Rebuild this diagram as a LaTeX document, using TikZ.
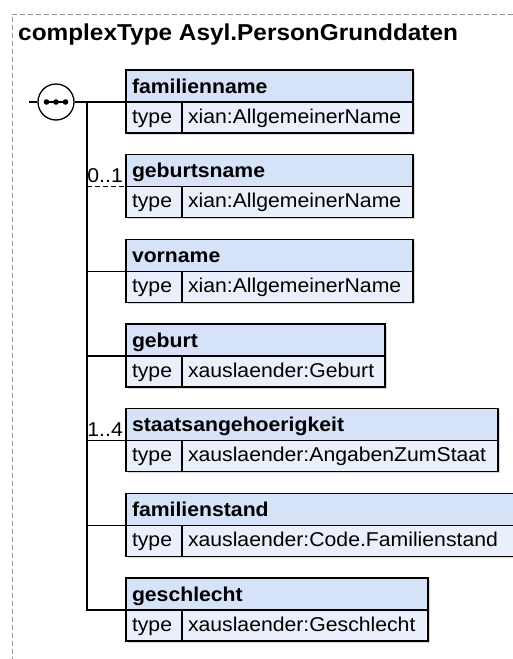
\documentclass[tikz,border=0pt]{standalone}
\usepackage{fontspec}
\setmainfont{Liberation Sans}[FakeStretch=1.06]
\usepackage{tikz}
\usetikzlibrary{shadows}
\definecolor{hdrfill}{RGB}{214,226,247}
\definecolor{rowfill}{RGB}{234,240,251}
\definecolor{framegray}{RGB}{150,150,150}

\begin{document}
\begin{tikzpicture}[x=1pt,y=-1pt,
  box/.style={draw,line width=1.2pt,anchor=north west,outer sep=0pt,inner xsep=6pt,inner ysep=0pt,align=left,
    font=\fontsize{20}{24}\selectfont,drop shadow={shadow xshift=1.5pt,shadow yshift=-1.5pt,fill=black!30}},
  hdr/.style={box,fill=hdrfill,font=\bfseries\fontsize{20}{24}\selectfont,minimum height=32pt,text height=16pt,text depth=2pt},
  row/.style={box,fill=rowfill,minimum height=31pt,text height=14.5pt,text depth=3.5pt},
  conn/.style={line width=1.2pt},
  opt/.style={dash pattern=on 5pt off 3pt},
  lbl/.style={anchor=base east,font=\fontsize{20}{24}\selectfont,inner sep=0pt},
  outline/.style={draw=framegray,line width=1pt,dash pattern=on 5pt off 3pt},
  ttl/.style={anchor=base west,font=\bfseries\fontsize{23}{28}\selectfont,inner sep=0pt}]
  \useasboundingbox (0,0) rectangle (513,659);
  \path[outline] (12,670) -- (12,14) -- (530,14);
  \node[ttl] (title) at (18,40) {complexType Asyl.PersonGrunddaten};

  % sequence compositor
  \node[draw,circle,line width=1.3pt,fill=white,minimum size=36pt,inner sep=0pt] (seq) at (56,102) {};
  \draw[line width=1.6pt] (46.5,102) -- (65.5,102);
  \foreach \dx in {46.5,56,65.5} \fill (\dx,102) circle (2.8);

  % elements
  \node[hdr,text width=275pt] (fnH) at (126,70) {familienname};
  \node[row,text width=44pt] (fnT) at (fnH.south west) {type};
  \node[row,text width=219pt] (fnV) at (fnT.north east) {xian:AllgemeinerName};

  \node[hdr,text width=275pt] (gnH) at (126,154.7) {geburtsname};
  \node[row,text width=44pt] (gnT) at (gnH.south west) {type};
  \node[row,text width=219pt] (gnV) at (gnT.north east) {xian:AllgemeinerName};

  \node[hdr,text width=275pt] (vnH) at (126,239.3) {vorname};
  \node[row,text width=44pt] (vnT) at (vnH.south west) {type};
  \node[row,text width=219pt] (vnV) at (vnT.north east) {xian:AllgemeinerName};

  \node[hdr,text width=247pt] (gbH) at (126,324) {geburt};
  \node[row,text width=44pt] (gbT) at (gbH.south west) {type};
  \node[row,text width=191pt] (gbV) at (gbT.north east) {xauslaender:Geburt};

  \node[hdr,text width=360pt] (saH) at (126,408.7) {staatsangehoerigkeit};
  \node[row,text width=44pt] (saT) at (saH.south west) {type};
  \node[row,text width=304pt] (saV) at (saT.north east) {xauslaender:AngabenZumStaat};

  \node[hdr,text width=392pt] (fsH) at (126,493.3) {familienstand};
  \node[row,text width=44pt] (fsT) at (fsH.south west) {type};
  \node[row,text width=336pt] (fsV) at (fsT.north east) {xauslaender:Code.Familienstand};

  \node[hdr,text width=290pt] (gsH) at (126,578) {geschlecht};
  \node[row,text width=44pt] (gsT) at (gsH.south west) {type};
  \node[row,text width=234pt] (gsV) at (gsT.north east) {xauslaender:Geschlecht};

  % connectors
  \coordinate (in) at (29,102);
  \coordinate (jn) at (87,102);
  \draw[conn] (in) -- (seq);
  \draw[conn] (seq) -- (fnH.south west);
  \draw[conn] (jn) |- (gsH.south west);
  \draw[conn,opt] (jn |- gnH.south west) -- (gnH.south west);
  \draw[conn] (jn |- vnH.south west) -- (vnH.south west);
  \draw[conn] (jn |- gbH.south west) -- (gbH.south west);
  \draw[conn] (jn |- saH.south west) -- (saH.south west);
  \draw[conn] (jn |- fsH.south west) -- (fsH.south west);
  \node[lbl] (gnM) at ([xshift=-3pt,yshift=4pt]gnH.south west) {0..1};
  \node[lbl] (saM) at ([xshift=-3pt,yshift=4pt]saH.south west) {1..4};
\end{tikzpicture}
\end{document}
